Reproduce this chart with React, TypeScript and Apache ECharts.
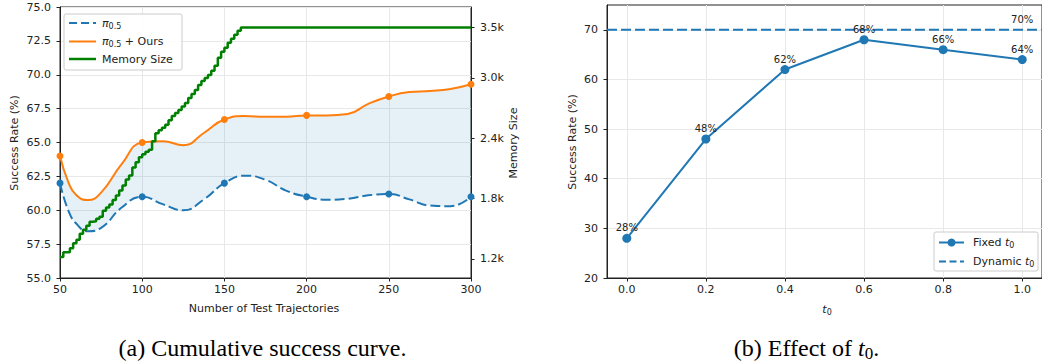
import React, { useEffect, useRef } from "react";
import * as echarts from "echarts";

// ---- Left chart data ----
const trajX = [50, 55, 60, 67, 75, 87.5, 100, 112.5, 125, 137.5, 150, 162.5, 175, 187.5, 200, 212.5, 225, 237.5, 250, 262.5, 275, 287.5, 300];
const baseRate = [62.0, 60.0, 59.0, 58.45, 58.7, 60.2, 61.0, 60.45, 60.0, 60.8, 62.0, 62.55, 62.25, 61.45, 61.0, 60.78, 60.85, 61.1, 61.2, 60.8, 60.35, 60.3, 61.0];
const oursRate = [64.0, 62.1, 61.1, 60.75, 61.3, 63.4, 65.0, 65.1, 64.8, 65.7, 66.7, 66.95, 66.9, 66.9, 67.0, 67.0, 67.1, 67.85, 68.4, 68.72, 68.8, 68.95, 69.3];
const markerX = [50, 100, 150, 200, 250, 300];
const baseMarkers = [62.0, 61.0, 62.0, 61.0, 61.2, 61.0];
const oursMarkers = [64.0, 65.0, 66.7, 67.0, 68.4, 69.3];
const memX = [50, 52, 54, 56, 58, 60, 62, 64, 66, 68, 70, 72, 74, 76, 78, 80, 82, 84, 86, 88, 90, 92, 94, 96, 98, 100, 102, 104, 106, 108, 110, 112, 114, 116, 118, 120, 122, 124, 126, 128, 130, 132, 134, 136, 138, 140, 142, 144, 146, 148, 150, 152, 154, 156, 158, 160, 300];
const memSize = [1220, 1265, 1265, 1305, 1355, 1390, 1450, 1490, 1530, 1570, 1575, 1600, 1620, 1680, 1710, 1740, 1785, 1830, 1880, 1930, 1990, 2030, 2110, 2160, 2210, 2240, 2265, 2285, 2370, 2450, 2480, 2505, 2535, 2580, 2620, 2650, 2680, 2715, 2750, 2800, 2840, 2880, 2930, 2970, 3000, 3030, 3070, 3120, 3200, 3260, 3300, 3350, 3390, 3430, 3470, 3500, 3500];
const rateTicks = [55, 57.5, 60, 62.5, 65, 67.5, 70, 72.5, 75];
const memTicks = [1200, 1800, 2400, 3000, 3500];
const memTickLabels = ["1.2k", "1.8k", "2.4k", "3.0k", "3.5k"];

// ---- Right chart data ----
const t0Values = [0, 0.2, 0.4, 0.6, 0.8, 1.0];
const fixedRate = [28, 48, 62, 68, 66, 64];
const dynamicRate = 70;
const rightYTicks = [20, 30, 40, 50, 60, 70];

const BLUE = "#1f77b4";
const ORANGE = "#ff7f0e";
const GREEN = "#008000";
const INK = "#222";
const GRID = "#e8e8e8";
const FONT = "DejaVu Sans";

export default function App() {
  const ref = useRef<HTMLDivElement>(null);
  useEffect(() => {
    if (!ref.current) return;
    const chart = echarts.init(ref.current, undefined, { renderer: "svg" });
    const pairs = (xs: number[], ys: number[]) => xs.map((x, i) => [x, ys[i]]);
    // [y, x] order so the stacked dimension is the value (y) one
    const yx = (xs: number[], ys: number[]) => xs.map((x, i) => [ys[i], x]);
    const diff = oursRate.map((v, i) => v - baseRate[i]);

    const axisCommon = {
      axisLine: { show: true, onZero: false, lineStyle: { color: INK, width: 1 } },
      axisTick: { show: true, length: 3.5, lineStyle: { color: INK } },
      axisLabel: { color: INK, fontSize: 11, fontFamily: FONT },
      splitLine: { show: true, lineStyle: { color: GRID, width: 1 } },
    };

    const option: any = {
      animation: false,
      grid: [
        { left: 60, top: 7, width: 411, height: 271, show: true, borderColor: INK, borderWidth: 1 },
        { left: 607, top: 5, width: 441, height: 273, show: true, borderColor: INK, borderWidth: 1 },
      ],
      xAxis: [
        {
          ...axisCommon,
          type: "value", gridIndex: 0, min: 50, max: 300, interval: 50,
          axisLabel: { ...axisCommon.axisLabel, margin: 6 },
        },
        {
          ...axisCommon,
          type: "value", gridIndex: 1, min: -0.05, max: 1.05,
          axisTick: { ...axisCommon.axisTick, customValues: t0Values },
          axisLabel: { ...axisCommon.axisLabel, margin: 6, customValues: t0Values, formatter: (v: number) => v.toFixed(1) },
        },
      ],
      yAxis: [
        {
          ...axisCommon,
          type: "value", gridIndex: 0, min: 55, max: 75,
          axisTick: { ...axisCommon.axisTick, customValues: rateTicks },
          axisLabel: { ...axisCommon.axisLabel, margin: 9, customValues: rateTicks, formatter: (v: number) => v.toFixed(1) },
        },
        {
          ...axisCommon,
          type: "value", gridIndex: 0, position: "right", min: 1010, max: 3705,
          splitLine: { show: false },
          axisTick: { ...axisCommon.axisTick, customValues: memTicks },
          axisLabel: {
            ...axisCommon.axisLabel, margin: 9, customValues: memTicks,
            formatter: (v: number) => memTickLabels[memTicks.indexOf(v)] ?? "",
          },
        },
        {
          ...axisCommon,
          type: "value", gridIndex: 1, min: 20, max: 75,
          axisTick: { ...axisCommon.axisTick, customValues: rightYTicks },
          axisLabel: { ...axisCommon.axisLabel, margin: 9, customValues: rightYTicks },
        },
      ],
      series: [
        {
          type: "line", xAxisIndex: 0, yAxisIndex: 0, stack: "band", smooth: 0.5,
          data: yx(trajX, baseRate), encode: { x: 1, y: 0 }, symbol: "none",
          lineStyle: { opacity: 0 }, z: 1, silent: true,
        },
        {
          type: "line", xAxisIndex: 0, yAxisIndex: 0, stack: "band", smooth: 0.5,
          data: yx(trajX, diff), encode: { x: 1, y: 0 }, symbol: "none",
          lineStyle: { opacity: 0 }, areaStyle: { color: "rgba(31,119,180,0.11)", opacity: 1 }, z: 1, silent: true,
        },
        {
          type: "line", xAxisIndex: 0, yAxisIndex: 0, smooth: 0.5, data: pairs(trajX, baseRate),
          symbol: "none", lineStyle: { color: BLUE, width: 2, type: [10, 4] }, z: 3,
        },
        {
          type: "line", xAxisIndex: 0, yAxisIndex: 0, smooth: 0.5, data: pairs(trajX, oursRate),
          symbol: "none", lineStyle: { color: ORANGE, width: 2 }, z: 3,
        },
        {
          type: "scatter", xAxisIndex: 0, yAxisIndex: 0, data: pairs(markerX, baseMarkers),
          symbolSize: 7, itemStyle: { color: BLUE, opacity: 1 }, z: 4,
        },
        {
          type: "scatter", xAxisIndex: 0, yAxisIndex: 0, data: pairs(markerX, oursMarkers),
          symbolSize: 7, itemStyle: { color: ORANGE, opacity: 1 }, z: 4,
        },
        {
          type: "line", xAxisIndex: 0, yAxisIndex: 1, step: "end", data: pairs(memX, memSize),
          symbol: "none", lineStyle: { color: GREEN, width: 2.5 }, z: 5,
        },
        // right chart
        {
          type: "line", xAxisIndex: 1, yAxisIndex: 2, data: [[-0.05, dynamicRate], [1.05, dynamicRate]],
          symbol: "none", lineStyle: { color: BLUE, width: 2, type: [10, 4] }, z: 3,
        },
        {
          type: "scatter", xAxisIndex: 1, yAxisIndex: 2, data: [[1.0, dynamicRate]], symbolSize: 0,
          itemStyle: { opacity: 1 },
          label: { show: true, position: "top", distance: 5, formatter: `${dynamicRate}%`, color: INK, fontSize: 10, fontFamily: FONT },
          z: 4,
        },
        {
          type: "line", xAxisIndex: 1, yAxisIndex: 2, data: pairs(t0Values, fixedRate),
          symbol: "circle", symbolSize: 9, itemStyle: { color: BLUE }, lineStyle: { color: BLUE, width: 2 },
          label: { show: true, position: "top", distance: 1, formatter: (p: any) => `${p.value[1]}%`, color: INK, fontSize: 10, fontFamily: FONT },
          z: 4,
        },
      ],
      graphic: [
        // left legend
        { type: "rect", shape: { x: 64, y: 14, width: 118, height: 56, r: 2 }, style: { fill: "rgba(255,255,255,0.85)", stroke: "#cccccc", lineWidth: 1 }, z: 100 },
        { type: "line", shape: { x1: 69, y1: 23, x2: 96, y2: 23 }, style: { stroke: BLUE, lineWidth: 2, lineDash: [8, 4] }, z: 101 },
        { type: "line", shape: { x1: 69, y1: 41.5, x2: 96, y2: 41.5 }, style: { stroke: ORANGE, lineWidth: 2 }, z: 101 },
        { type: "line", shape: { x1: 69, y1: 59, x2: 96, y2: 59 }, style: { stroke: GREEN, lineWidth: 2.5 }, z: 101 },
        {
          type: "text", x: 102, y: 23, z: 101,
          style: {
            text: "{pi|π}{sub|0.5}", verticalAlign: "middle", fill: INK,
            rich: { pi: { fontSize: 11, fontFamily: FONT, fontStyle: "italic", lineHeight: 14, fill: INK }, sub: { fontSize: 8, fontFamily: FONT, lineHeight: 8, verticalAlign: "bottom", fill: INK } },
          },
        },
        {
          type: "text", x: 102, y: 41.5, z: 101,
          style: {
            text: "{pi|π}{sub|0.5}{n| + Ours}", verticalAlign: "middle", fill: INK,
            rich: { pi: { fontSize: 11, fontFamily: FONT, fontStyle: "italic", lineHeight: 14, fill: INK }, sub: { fontSize: 8, fontFamily: FONT, lineHeight: 8, verticalAlign: "bottom", fill: INK }, n: { fontSize: 11, fontFamily: FONT, lineHeight: 14, fill: INK } },
          },
        },
        { type: "text", x: 102, y: 59, z: 101, style: { text: "Memory Size", fontSize: 11, fontFamily: FONT, fill: INK, verticalAlign: "middle" } },
        // right legend
        { type: "rect", shape: { x: 934, y: 232, width: 104, height: 39, r: 2 }, style: { fill: "rgba(255,255,255,0.85)", stroke: "#cccccc", lineWidth: 1 }, z: 100 },
        { type: "line", shape: { x1: 939, y1: 242.5, x2: 964, y2: 242.5 }, style: { stroke: BLUE, lineWidth: 2 }, z: 101 },
        { type: "circle", shape: { cx: 951.5, cy: 242.5, r: 4 }, style: { fill: BLUE }, z: 102 },
        { type: "line", shape: { x1: 939, y1: 261.5, x2: 964, y2: 261.5 }, style: { stroke: BLUE, lineWidth: 2, lineDash: [7, 3.5] }, z: 101 },
        {
          type: "text", x: 973, y: 242.5, z: 101,
          style: {
            text: "{n|Fixed }{t|t}{sub|0}", verticalAlign: "middle", fill: INK,
            rich: { n: { fontSize: 11, fontFamily: FONT, lineHeight: 14, fill: INK }, t: { fontSize: 11, fontFamily: FONT, fontStyle: "italic", lineHeight: 14, fill: INK }, sub: { fontSize: 8, fontFamily: FONT, lineHeight: 8, verticalAlign: "bottom", fill: INK } },
          },
        },
        {
          type: "text", x: 973, y: 261.5, z: 101,
          style: {
            text: "{n|Dynamic }{t|t}{sub|0}", verticalAlign: "middle", fill: INK,
            rich: { n: { fontSize: 11, fontFamily: FONT, lineHeight: 14, fill: INK }, t: { fontSize: 11, fontFamily: FONT, fontStyle: "italic", lineHeight: 14, fill: INK }, sub: { fontSize: 8, fontFamily: FONT, lineHeight: 8, verticalAlign: "bottom", fill: INK } },
          },
        },
        // axis names
        { type: "text", x: 14, y: 143, rotation: Math.PI / 2, style: { text: "Success Rate (%)", fontSize: 11, fontFamily: FONT, fill: INK, align: "center", verticalAlign: "middle" } },
        { type: "text", x: 513, y: 143, rotation: Math.PI / 2, style: { text: "Memory Size", fontSize: 11, fontFamily: FONT, fill: INK, align: "center", verticalAlign: "middle" } },
        { type: "text", x: 264, y: 308, style: { text: "Number of Test Trajectories", fontSize: 11, fontFamily: FONT, fill: INK, align: "center", verticalAlign: "middle" } },
        { type: "text", x: 572, y: 142, rotation: Math.PI / 2, style: { text: "Success Rate (%)", fontSize: 11, fontFamily: FONT, fill: INK, align: "center", verticalAlign: "middle" } },
        {
          type: "text", x: 827, y: 309,
          style: {
            text: "{t|t}{sub|0}", align: "center", verticalAlign: "middle", fill: INK,
            rich: { t: { fontSize: 11, fontFamily: FONT, fontStyle: "italic", lineHeight: 14, fill: INK }, sub: { fontSize: 8, fontFamily: FONT, lineHeight: 8, verticalAlign: "bottom", fill: INK } },
          },
        },
        // captions
        { type: "text", x: 262.5, y: 348, style: { text: "(a) Cumulative success curve.", fontSize: 24, fontFamily: "Liberation Serif", fill: "#000", align: "center", verticalAlign: "middle" } },
        {
          type: "text", x: 806.5, y: 348,
          style: {
            text: "{n|(b) Effect of }{t|t}{sub|0}{n|.}", align: "center", verticalAlign: "middle", fill: "#000",
            rich: {
              n: { fontSize: 24, fontFamily: "Liberation Serif", lineHeight: 28, fill: "#000" },
              t: { fontSize: 24, fontFamily: "Liberation Serif", fontStyle: "italic", lineHeight: 28, fill: "#000" },
              sub: { fontSize: 17, fontFamily: "Liberation Serif", lineHeight: 18, verticalAlign: "bottom", fill: "#000" },
            },
          },
        },
      ],
    };
    chart.setOption(option);
    return () => chart.dispose();
  }, []);
  return <div ref={ref} style={{ position: "fixed", left: 0, top: 0, width: 1042, height: 364, background: "#fff" }} />;
}
